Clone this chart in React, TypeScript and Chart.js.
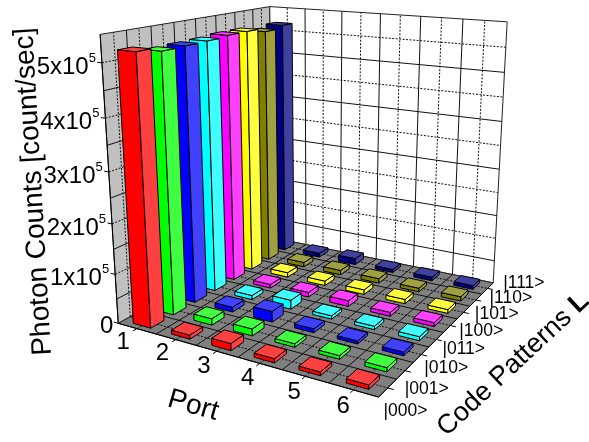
import React, { useEffect, useRef } from "react";
import { Chart, BarController, registerables } from "chart.js";

Chart.register(...registerables);

const ports = ["1", "2", "3", "4", "5", "6"];
const codes = ["|000>", "|001>", "|010>", "|011>", "|100>", "|101>", "|110>", "|111>"];
const codeColors = ["#ff0000", "#00ff00", "#0000ff", "#00ffff", "#ff00ff", "#ffff00", "#808000", "#000080"];
const counts000 = [523000, 8000, 14000, 8000, 7000, 8000];
const counts001 = [515000, 13000, 14000, 7000, 7000, 8000];
const counts010 = [516000, 10000, 22000, 8000, 6000, 7000];
const counts011 = [517000, 9000, 19000, 7000, 7000, 8000];
const counts100 = [520000, 8000, 10000, 12000, 8000, 8000];
const counts101 = [520000, 10000, 10000, 10000, 9000, 8000];
const counts110 = [512000, 10000, 10000, 10000, 8000, 9000];
const counts111 = [518000, 9000, 14000, 7000, 8000, 8000];
const seriesValues = [counts000, counts001, counts010, counts011, counts100, counts101, counts110, counts111];
const yTicks = [0, 100000, 200000, 300000, 400000, 500000];
const countMax = 550000;
const titlePort = "Port";
const titleCode = "Code Patterns ";
const titleCodeBold = "L";
const titleCount = "Photon Counts [count/sec]";

// View of the unit box, (portFraction, codeFraction, heightFraction) -> page pixel
const viewCorners: [number, number, number, number, number][] = [
  [0, 0, 0, 118, 322],
  [1, 0, 0, 379, 398],
  [0, 1, 0, 273, 239],
  [1, 1, 0, 493, 282],
  [0, 0, 1, 100, 35],
  [0, 1, 1, 270, 6],
  [1, 1, 1, 507, 22],
];

function solve(A: number[][], b: number[]) {
  const n = b.length;
  const M = A.map((r, i) => [...r, b[i]]);
  for (let c = 0; c < n; c++) {
    let p = c;
    for (let r = c + 1; r < n; r++) if (Math.abs(M[r][c]) > Math.abs(M[p][c])) p = r;
    [M[c], M[p]] = [M[p], M[c]];
    for (let r = 0; r < n; r++) {
      if (r === c) continue;
      const f = M[r][c] / M[c][c];
      for (let k = c; k <= n; k++) M[r][k] -= f * M[c][k];
    }
  }
  return M.map((r, i) => r[n] / r[i]);
}

function fitProjection() {
  const rows: number[][] = [];
  const rhs: number[] = [];
  for (const [X, Y, Z, u, v] of viewCorners) {
    rows.push([X, Y, Z, 1, 0, 0, 0, 0, -u * X, -u * Y, -u * Z]);
    rhs.push(u);
    rows.push([0, 0, 0, 0, X, Y, Z, 1, -v * X, -v * Y, -v * Z]);
    rhs.push(v);
  }
  const ATA = Array.from({ length: 11 }, (_, i) =>
    Array.from({ length: 11 }, (_, j) => rows.reduce((s, r) => s + r[i] * r[j], 0))
  );
  const ATb = Array.from({ length: 11 }, (_, i) => rows.reduce((s, r, k) => s + r[i] * rhs[k], 0));
  return solve(ATA, ATb);
}
const P = fitProjection();
function project(X: number, Y: number, Z: number): [number, number] {
  const w = P[8] * X + P[9] * Y + P[10] * Z + 1;
  return [(P[0] * X + P[1] * Y + P[2] * Z + P[3]) / w, (P[4] * X + P[5] * Y + P[6] * Z + P[7]) / w];
}

function fracs(chart: any) {
  const { x, code, y } = chart.scales;
  return {
    X: (i: number) => (x.getPixelForValue(i) - x.left) / x.width,
    Y: (i: number) => (code.getPixelForValue(i) - code.left) / code.width,
    Z: (v: number) => (y.bottom - y.getPixelForValue(v)) / y.height,
  };
}

function poly(ctx: CanvasRenderingContext2D, pts: [number, number][], fill: string, stroke = "#000", lw = 1) {
  ctx.beginPath();
  pts.forEach((p, i) => (i ? ctx.lineTo(p[0], p[1]) : ctx.moveTo(p[0], p[1])));
  ctx.closePath();
  ctx.fillStyle = fill;
  ctx.fill();
  if (lw > 0) {
    ctx.strokeStyle = stroke;
    ctx.lineWidth = lw;
    ctx.lineJoin = "round";
    ctx.stroke();
  }
}

function seg(ctx: CanvasRenderingContext2D, a: [number, number], b: [number, number], dotted: boolean, color = "#111", lw = 1) {
  ctx.beginPath();
  ctx.setLineDash(dotted ? [2, 1.5] : []);
  ctx.moveTo(a[0], a[1]);
  ctx.lineTo(b[0], b[1]);
  ctx.strokeStyle = color;
  ctx.lineWidth = lw;
  ctx.stroke();
  ctx.setLineDash([]);
}

function lighter(hex: string) {
  const n = parseInt(hex.slice(1), 16);
  const mix = (c: number) => Math.round(c + (255 - c) * 0.25);
  return `rgb(${mix((n >> 16) & 255)},${mix((n >> 8) & 255)},${mix(n & 255)})`;
}

const barWidthPort = 0.46;
const barWidthCode = 0.58;

class Bar3DController extends (BarController as any) {
  static id = "bar3d";
  static defaults = { ...(BarController as any).defaults };
  static overrides = (BarController as any).overrides;
  draw() {
    const chart = (this as any).chart;
    const ctx = chart.ctx as CanvasRenderingContext2D;
    const dsIndex = (this as any).index;
    const data = chart.data.datasets[dsIndex].data as number[];
    const color = chart.data.datasets[dsIndex].backgroundColor as string;
    const { X, Y, Z } = fracs(chart);
    const dx = (X(1) - X(0)) * barWidthPort * 0.5;
    const dy = (Y(1) - Y(0)) * barWidthCode * 0.5;
    const lite = lighter(color);
    data.forEach((v, i) => {
      const x0 = X(i) - dx, x1 = X(i) + dx, y0 = Y(dsIndex) - dy, y1 = Y(dsIndex) + dy, z = Z(v);
      poly(ctx, [project(x0, y0, 0), project(x1, y0, 0), project(x1, y0, z), project(x0, y0, z)], color);
      poly(ctx, [project(x1, y0, 0), project(x1, y1, 0), project(x1, y1, z), project(x1, y0, z)], lite);
      poly(ctx, [project(x0, y0, z), project(x1, y0, z), project(x1, y1, z), project(x0, y1, z)], lite);
    });
  }
}
Chart.register(Bar3DController as any);

const frame = {
  id: "frame3d",
  beforeDatasetsDraw(chart: any) {
    const ctx = chart.ctx as CanvasRenderingContext2D;
    const { X, Y, Z } = fracs(chart);
    poly(ctx, [project(0, 0, 0), project(0, 1, 0), project(0, 1, 1), project(0, 0, 1)], "#c0c0c0", "#222", 1);
    poly(ctx, [project(0, 1, 0), project(1, 1, 0), project(1, 1, 1), project(0, 1, 1)], "#ffffff", "#222", 1);
    poly(ctx, [project(0, 0, 0), project(1, 0, 0), project(1, 1, 0), project(0, 1, 0)], "#808080", "#222", 1);
    const stepX = X(1) - X(0), stepY = Y(1) - Y(0);
    const nX = ports.length, nY = codes.length;
    for (let i = 0; i < nX; i++) {
      const a = X(i), b = X(i) + stepX / 2;
      seg(ctx, project(a, 0, 0), project(a, 1, 0), true);
      seg(ctx, project(a, 1, 0), project(a, 1, 1), true);
      if (i < nX - 1) {
        seg(ctx, project(b, 0, 0), project(b, 1, 0), false);
        seg(ctx, project(b, 1, 0), project(b, 1, 1), false);
      }
    }
    for (let j = 0; j < nY; j++) {
      const a = Y(j), b = Y(j) + stepY / 2;
      seg(ctx, project(0, a, 0), project(1, a, 0), true);
      seg(ctx, project(0, a, 0), project(0, a, 1), true);
      if (j < nY - 1) {
        seg(ctx, project(0, b, 0), project(1, b, 0), false);
        seg(ctx, project(0, b, 0), project(0, b, 1), false);
      }
    }
    const halfTick = Z(yTicks[1]) / 2;
    for (let k = 1; k < 11; k++) {
      const z = halfTick * k;
      const major = k % 2 === 0;
      seg(ctx, project(0, 0, z), project(0, 1, z), major);
      seg(ctx, project(0, 1, z), project(1, 1, z), major);
    }
    // axis lines and tick marks
    seg(ctx, project(0, 0, 0), project(1, 0, 0), false, "#000", 1);
    seg(ctx, project(1, 0, 0), project(1, 1, 0), false, "#000", 1);
    seg(ctx, project(0, 0, 0), project(0, 0, 1), false, "#000", 1);
    for (let i = 0; i < nX; i++) seg(ctx, project(X(i), 0, 0), project(X(i), -0.02, 0), false, "#000", 1);
    for (let j = 0; j < nY; j++) seg(ctx, project(1, Y(j), 0), project(1.02, Y(j), 0), false, "#000", 1);
    for (let k = 0; k <= 10; k += 2) seg(ctx, project(0, 0, halfTick * k), project(-0.02, 0, halfTick * k), false, "#000", 1);

    // labels
    ctx.fillStyle = "#000";
    ctx.textBaseline = "alphabetic";
    const font = (s: number, extra = "") => `${extra} ${s}px "Liberation Sans", Arial, sans-serif`.trim();
    // count ticks
    yTicks.forEach((t) => {
      const [tx, ty] = project(0, 0, Z(t));
      if (t === 0) {
        ctx.font = font(24);
        ctx.textAlign = "right";
        ctx.fillText("0", tx - 5, ty + 10);
        return;
      }
      const lead = `${t / 100000}x10`;
      ctx.font = font(13);
      ctx.textAlign = "right";
      ctx.fillText("5", tx - 6, ty - 1);
      const w = ctx.measureText("5").width;
      ctx.font = font(24);
      ctx.fillText(lead, tx - 6 - w, ty + 11);
    });
    // port ticks
    ctx.font = font(24);
    ctx.textAlign = "center";
    ports.forEach((p, i) => {
      const [tx, ty] = project(X(i), -0.09, 0);
      ctx.fillText(p, tx + 4, ty + 10);
    });
    // code ticks
    ctx.font = font(17.5);
    ctx.textAlign = "left";
    codes.forEach((c, j) => {
      const t = j / (codes.length - 1);
      const [tx, ty] = project(1, t, 0);
      ctx.fillText(c, tx + 5 + 5 * t, ty + 19 - 14 * t);
    });
    // titles
    const rotated = (cx: number, cy: number, deg: number, draw: () => void) => {
      ctx.save();
      ctx.translate(cx, cy);
      ctx.rotate((deg * Math.PI) / 180);
      draw();
      ctx.restore();
    };
    const [pcx, pcy] = project(0.33, -0.3, 0);
    rotated(pcx + 56, pcy + 29, 16, () => {
      ctx.font = font(28);
      ctx.textAlign = "center";
      ctx.fillText(titlePort, 0, 0);
    });
    const [ccx, ccy] = project(0, 0, 0.5);
    rotated(ccx - 68, ccy + 6, -93.3, () => {
      ctx.font = font(28);
      ctx.textAlign = "center";
      ctx.fillText(titleCount, 0, 0);
    });
    const [lx, ly] = project(1.28, 0.36, 0);
    rotated(lx - 5, ly + 13, -43, () => {
      ctx.font = font(27);
      const a = ctx.measureText(titleCode).width;
      ctx.textAlign = "left";
      ctx.fillText(titleCode, -80, 0);
      ctx.font = font(27, "bold");
      ctx.fillText(titleCodeBold, -80 + a, 0);
    });
  },
};

export default function App() {
  const ref = useRef<HTMLCanvasElement>(null);
  useEffect(() => {
    const chart = new Chart(ref.current as HTMLCanvasElement, {
      type: "bar3d" as any,
      data: {
        labels: ports,
        datasets: codes.map((c, i) => ({
          label: c,
          data: seriesValues[i],
          backgroundColor: codeColors[i],
        })),
      },
      options: {
        responsive: false,
        animation: false,
        devicePixelRatio: 1,
        layout: { padding: 0 },
        plugins: { legend: { display: false }, tooltip: { enabled: false } },
        scales: {
          x: { type: "category", labels: ports, offset: true, display: false },
          code: { type: "category", axis: "x", labels: codes, offset: true, display: false },
          y: { type: "linear", min: 0, max: countMax, display: false, ticks: { stepSize: 100000 } },
        },
      } as any,
      plugins: [frame],
    });
    return () => chart.destroy();
  }, []);
  return (
    <canvas
      ref={ref}
      width={589}
      height={442}
      style={{ position: "absolute", left: 0, top: 0, width: 589, height: 442 }}
    />
  );
}
